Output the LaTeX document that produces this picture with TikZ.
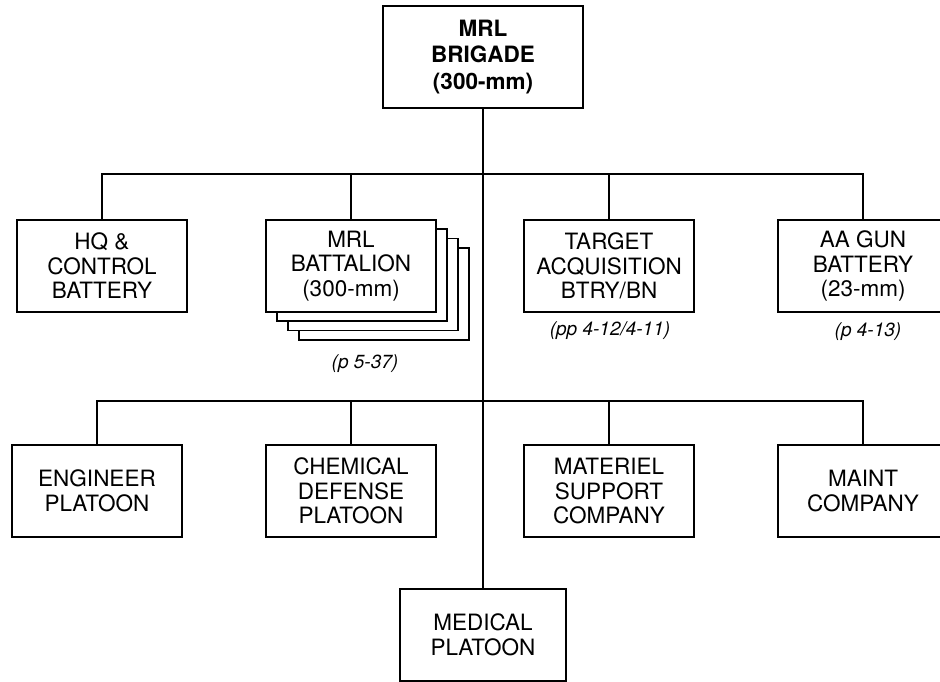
\documentclass[tikz,border=0pt]{standalone}
\usepackage{fontspec}
\setmainfont{TeX Gyre Heros}

\begin{document}
\begin{tikzpicture}[x=1pt,y=-1pt,
  unit/.style={draw,line width=1.7pt,fill=white,minimum width=170,minimum height=92,
    inner sep=0pt,align=center,font=\fontsize{22.5}{24.5}\selectfont},
  pgref/.style={font=\itshape\fontsize{19}{21}\selectfont},
  conn/.style={line width=1.7pt}]
  \useasboundingbox (0,0) rectangle (940,681);
  % brigade
  \node[unit,minimum width=200,minimum height=102,font=\bfseries\fontsize{22.5}{26.5}\selectfont] (bde) at (483,57) {MRL\\BRIGADE\\(300-mm)};
  % first row
  \node[unit] (hq) at (102,266) {HQ \&\\CONTROL\\BATTERY};
  \foreach \s in {3,2,1}
    \node[unit] (mrlb\s) at ({351+11*\s},{266+9.3*\s}) {};
  \node[unit] (mrlb) at (351,266) {MRL\\BATTALION\\(300-mm)};
  \node[unit] (ta) at (609,266) {TARGET\\ACQUISITION\\BTRY/BN};
  \node[unit] (aa) at (863,266) {AA GUN\\BATTERY\\(23-mm)};
  % page refs
  \node[pgref] (mrlbref) at (365,364) {(p 5-37)};
  \node[pgref] (taref) at (610,331) {(pp 4-12/4-11)};
  \node[pgref] (aaref) at (868,332) {(p 4-13)};
  % second row
  \node[unit] (eng) at (97,491) {ENGINEER\\PLATOON};
  \node[unit] (chem) at (351,491) {CHEMICAL\\DEFENSE\\PLATOON};
  \node[unit] (mat) at (609,491) {MATERIEL\\SUPPORT\\COMPANY};
  \node[unit] (maint) at (863,491) {MAINT\\COMPANY};
  \node[unit,minimum width=166] (med) at (483,635) {MEDICAL\\PLATOON};
  % lines
  \coordinate (busA) at (483,174);
  \coordinate (busB) at (483,401);
  \draw[conn] (bde.south) -- (med.north);
  \draw[conn] (hq.north) |- (busA) -| (aa.north);
  \foreach \n in {mrlb,ta}
    \draw[conn] (\n.north) -- (\n.north |- busA);
  \draw[conn] (eng.north) |- (busB) -| (maint.north);
  \foreach \n in {chem,mat}
    \draw[conn] (\n.north) -- (\n.north |- busB);
\end{tikzpicture}
\end{document}
